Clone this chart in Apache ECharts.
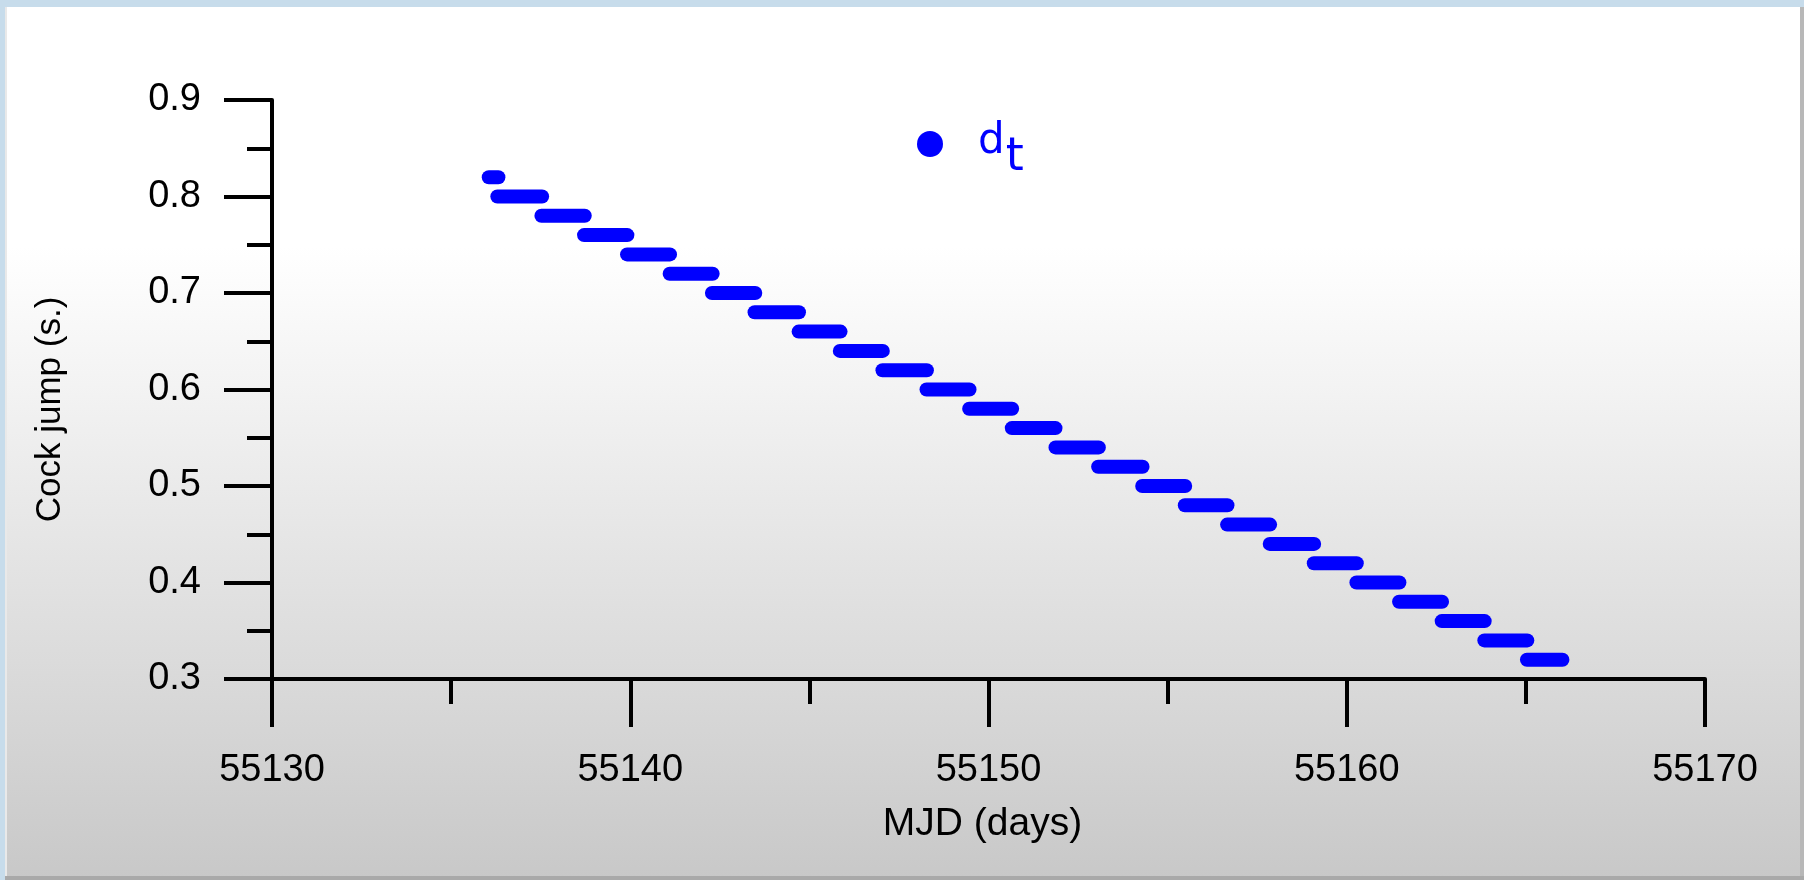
<!DOCTYPE html>
<html>
<head>
<meta charset="utf-8">
<script src="https://cdn.jsdelivr.net/npm/echarts@6/dist/echarts.min.js"></script>
<style>
  html, body { margin: 0; padding: 0; background: #c7dceb; }
  #chart { width: 1804px; height: 880px; }
</style>
</head>
<body>
<div id="chart"></div>
<script>
// Clock-jump steps: each step is a horizontal run of points at a constant value
var segValue = [0.82, 0.80, 0.78, 0.76, 0.74, 0.72, 0.70, 0.68, 0.66, 0.64, 0.62, 0.60, 0.58,
                0.56, 0.54, 0.52, 0.50, 0.48, 0.46, 0.44, 0.42, 0.40, 0.38, 0.36, 0.34, 0.32];
var segStart = [55136.05, 55136.29, 55137.52, 55138.71, 55139.91, 55141.10, 55142.28, 55143.47,
                55144.70, 55145.85, 55147.04, 55148.27, 55149.46, 55150.65, 55151.87, 55153.06,
                55154.29, 55155.48, 55156.66, 55157.85, 55159.08, 55160.27, 55161.46, 55162.65,
                55163.84, 55165.03];
var segEnd   = [55136.32, 55137.54, 55138.73, 55139.92, 55141.11, 55142.30, 55143.49, 55144.71,
                55145.87, 55147.05, 55148.28, 55149.47, 55150.66, 55151.87, 55153.08, 55154.30,
                55155.49, 55156.67, 55157.86, 55159.09, 55160.28, 55161.47, 55162.66, 55163.85,
                55165.04, 55166.02];
var xTicks = [55130, 55140, 55150, 55160, 55170];
var yTicks = [0.3, 0.4, 0.5, 0.6, 0.7, 0.8, 0.9];
var seriesName = 'd_t';
var xTitle = 'MJD (days)';
var yTitle = 'Cock jump (s.)';

var segData = segValue.map(function (v, i) { return [segStart[i], segEnd[i], v]; });

var BLUE = '#0000ff';
var FONT = '"Liberation Sans", Arial, sans-serif';
var LFONT = '"DejaVu Sans", Verdana, sans-serif';

var chart = echarts.init(document.getElementById('chart'), null, { renderer: 'canvas' });
chart.setOption({
  animation: false,
  backgroundColor: {
    type: 'linear', x: 0, y: 0, x2: 0, y2: 1,
    colorStops: [
      { offset: 0, color: '#ffffff' },
      { offset: 0.28, color: '#ffffff' },
      { offset: 1, color: '#c8c8c8' }
    ]
  },
  graphic: [
    { type: 'rect', shape: { x: 0, y: 0, width: 1804, height: 7 }, style: { fill: '#c7dceb' }, silent: true },
    { type: 'rect', shape: { x: 0, y: 0, width: 5, height: 880 }, style: { fill: '#c7dceb' }, silent: true },
    { type: 'rect', shape: { x: 5, y: 7, width: 2, height: 873 }, style: { fill: '#e9e9e9' }, silent: true },
    { type: 'rect', shape: { x: 1800, y: 7, width: 4, height: 873 }, style: { fill: '#b8b8b8' }, silent: true },
    { type: 'rect', shape: { x: 5, y: 876, width: 1799, height: 4 }, style: { fill: '#a9a9a9' }, silent: true }
  ],
  grid: { left: 272, top: 100, width: 1433, height: 579, containLabel: false },
  legend: {
    left: 912, top: 116,
    icon: 'circle',
    itemWidth: 26, itemHeight: 26,
    data: [{ name: seriesName }],
    selectedMode: false,
    formatter: function () { return '{d|d}{t|t}'; },
    textStyle: {
      color: BLUE,
      rich: {
        d: { fontFamily: LFONT, fontSize: 42, color: BLUE, padding: [0, 0, 0, 30], verticalAlign: 'top', lineHeight: 42 },
        t: { fontFamily: LFONT, fontSize: 46, color: BLUE, padding: [14, 0, 0, 1], verticalAlign: 'top', lineHeight: 46 }
      }
    }
  },
  xAxis: {
    type: 'value',
    min: xTicks[0], max: xTicks[xTicks.length - 1], interval: 10,
    name: xTitle, nameLocation: 'middle', nameGap: 126,
    nameTextStyle: { fontFamily: FONT, fontSize: 39, color: '#000', padding: [0, 12, 0, 0] },
    axisLine: { show: true, onZero: false, lineStyle: { color: '#000', width: 4 } },
    axisTick: { show: true, inside: false, length: 48, lineStyle: { color: '#000', width: 4 } },
    minorTick: { show: true, splitNumber: 2, length: 25, lineStyle: { color: '#000', width: 4 } },
    splitLine: { show: false },
    axisLabel: { fontFamily: FONT, fontSize: 38, color: '#000', margin: 73,
                 formatter: function (v) { return String(v); } }
  },
  yAxis: {
    type: 'value',
    min: yTicks[0], max: yTicks[yTicks.length - 1], interval: 0.1,
    name: yTitle, nameLocation: 'middle', nameGap: 204, nameRotate: 90,
    nameTextStyle: { fontFamily: FONT, fontSize: 35, color: '#000', padding: [0, 40, 0, 0] },
    axisLine: { show: true, onZero: false, lineStyle: { color: '#000', width: 4 } },
    axisTick: { show: true, inside: false, length: 48, lineStyle: { color: '#000', width: 4 } },
    minorTick: { show: true, splitNumber: 2, length: 25, lineStyle: { color: '#000', width: 4 } },
    splitLine: { show: false },
    axisLabel: { fontFamily: FONT, fontSize: 38, color: '#000', margin: 71,
                 formatter: function (v) { return v.toFixed(1); } }
  },
  series: [{
    name: seriesName,
    type: 'custom',
    itemStyle: { color: BLUE },
    encode: { x: [0, 1], y: 2 },
    data: segData,
    renderItem: function (params, api) {
      var p1 = api.coord([api.value(0), api.value(2)]);
      var p2 = api.coord([api.value(1), api.value(2)]);
      return {
        type: 'line',
        shape: { x1: p1[0], y1: p1[1], x2: p2[0], y2: p2[1] },
        style: { stroke: BLUE, lineWidth: 14, lineCap: 'round' }
      };
    }
  }]
});
</script>
</body>
</html>
